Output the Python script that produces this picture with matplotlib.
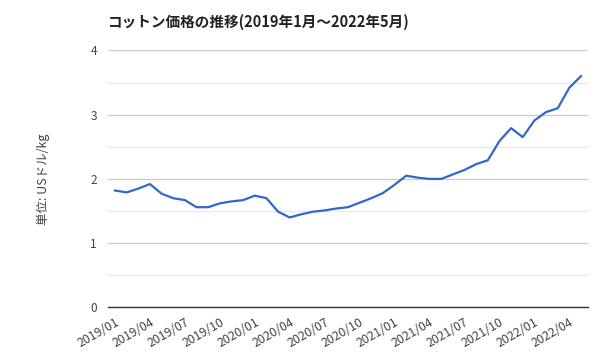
import matplotlib
matplotlib.use("Agg")
import matplotlib.pyplot as plt
from matplotlib.ticker import MultipleLocator

plt.rcParams['font.family'] = ['Noto Sans CJK JP', 'DejaVu Sans']

title = "コットン価格の推移(2019年1月～2022年5月)"
ylabel = "単位: USドル/kg"

months = [f"{y}/{m:02d}" for y in (2019, 2020, 2021, 2022) for m in range(1, 13)][:41]
prices = [1.82, 1.79, 1.85, 1.92, 1.77, 1.70, 1.67, 1.56, 1.56, 1.62, 1.65, 1.67,
          1.74, 1.70, 1.49, 1.40, 1.45, 1.49, 1.51, 1.54, 1.56, 1.63, 1.70, 1.78,
          1.91, 2.05, 2.02, 2.00, 2.00, 2.07, 2.14, 2.23, 2.29, 2.59, 2.79, 2.65,
          2.91, 3.04, 3.10, 3.42, 3.60]
yticks = [0, 1, 2, 3, 4]

fig = plt.figure(figsize=(6, 3.6), dpi=100)
ax = fig.add_axes([0.18, 0.146, 0.80, 0.714])

x = list(range(len(months)))
ax.plot(x, prices, color='#3366CC', lw=1.6, solid_joinstyle='round')

ax.set_xlim(-0.6, len(months) - 1 + 0.6)
ax.set_ylim(0, 4)
ax.set_yticks(yticks)
ax.yaxis.set_minor_locator(MultipleLocator(0.5))
ax.grid(which='major', axis='y', color='#cccccc', lw=0.9)
ax.grid(which='minor', axis='y', color='#ebebeb', lw=0.9)
ax.set_axisbelow(True)

tick_pos = x[::3]
ax.set_xticks(tick_pos)
ax.set_xticklabels([months[i] for i in tick_pos], rotation=30, ha='right',
                   rotation_mode='anchor', fontsize=8.8, color='#444444')
ax.tick_params(axis='x', length=0, pad=6)
ax.tick_params(axis='y', which='both', length=0, pad=8, labelsize=8.5, labelcolor='#444444')

for s in ('top', 'right', 'left'):
    ax.spines[s].set_visible(False)
ax.spines['bottom'].set_color('#333333')
ax.spines['bottom'].set_linewidth(1.0)

ax.set_ylabel(ylabel, fontsize=9, color='#444444', labelpad=29)
fig.text(0.18, 0.94, title, fontsize=10.5, fontweight='bold', color='#222222',
         ha='left', va='center')

fig.savefig('out.png', dpi=100, facecolor='white')
